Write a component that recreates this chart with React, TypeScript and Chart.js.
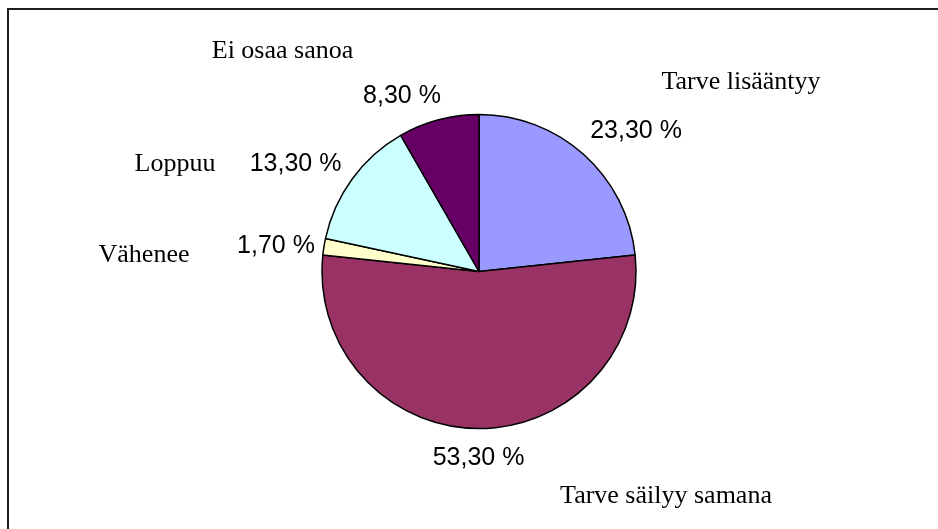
import React, { useEffect, useRef } from "react";
import { Chart, registerables } from "chart.js";

Chart.register(...registerables);

const categories = ["Tarve lisääntyy", "Tarve säilyy samana", "Vähenee", "Loppuu", "Ei osaa sanoa"];
const values = [23.3, 53.3, 1.7, 13.3, 8.3];
const colors = ["#9999FF", "#993366", "#FFFFCC", "#CCFFFF", "#660066"];

// label placement relative to pie centre (text centre x, baseline y), pixels
const categoryOffsets = [
  [262, -182.5],
  [187, 231.5],
  [-335, -9.5],
  [-304, -100.5],
  [-196.5, -213.5],
];
const valueOffsets = [
  [157, -133.5],
  [-0.5, 193.5],
  [-203, -18.5],
  [-183.5, -100.5],
  [-77, -168.5],
];

const frameAndLabels = {
  id: "frameAndLabels",
  beforeDraw(chart: any) {
    const ctx = chart.ctx;
    ctx.save();
    ctx.fillStyle = "#ffffff";
    ctx.fillRect(0, 0, chart.width, chart.height);
    ctx.fillStyle = "#1e1e1e";
    ctx.fillRect(7, 8, 2, chart.height - 8);
    ctx.fillRect(7, 8, chart.width - 7, 2);
    ctx.restore();
  },
  afterDraw(chart: any) {
    const ctx = chart.ctx;
    const meta = chart.getDatasetMeta(0);
    const arc = meta.data[0];
    const cx = arc.x;
    const cy = arc.y;
    ctx.save();
    ctx.fillStyle = "#000000";
    ctx.textAlign = "center";
    ctx.textBaseline = "alphabetic";
    categories.forEach((c, i) => {
      ctx.font = '26px "Liberation Serif", "Times New Roman", serif';
      ctx.fillText(c, cx + categoryOffsets[i][0], cy + categoryOffsets[i][1]);
      ctx.font = '25px "Liberation Sans", Arial, sans-serif';
      const txt = values[i].toFixed(2).replace(".", ",") + " %";
      ctx.fillText(txt, cx + valueOffsets[i][0], cy + valueOffsets[i][1]);
    });
    ctx.restore();
  },
};

export default function App() {
  const ref = useRef<HTMLCanvasElement>(null);
  useEffect(() => {
    if (!ref.current) return;
    const chart = new Chart(ref.current, {
      type: "pie",
      data: {
        labels: categories,
        datasets: [
          {
            data: values,
            backgroundColor: colors,
            borderColor: "#000000",
            borderWidth: 1.5,
          },
        ],
      },
      options: {
        responsive: false,
        animation: false,
        radius: 157,
        layout: { padding: { left: 120, right: 100, top: 64, bottom: 50 } },
        plugins: {
          legend: { display: false },
          tooltip: { enabled: false },
          title: { display: false },
        },
      } as any,
      plugins: [frameAndLabels],
    });
    return () => chart.destroy();
  }, []);
  return (
    <canvas
      ref={ref}
      width={938}
      height={529}
      style={{ position: "fixed", left: 0, top: 0, width: 938, height: 529, display: "block" }}
    />
  );
}
